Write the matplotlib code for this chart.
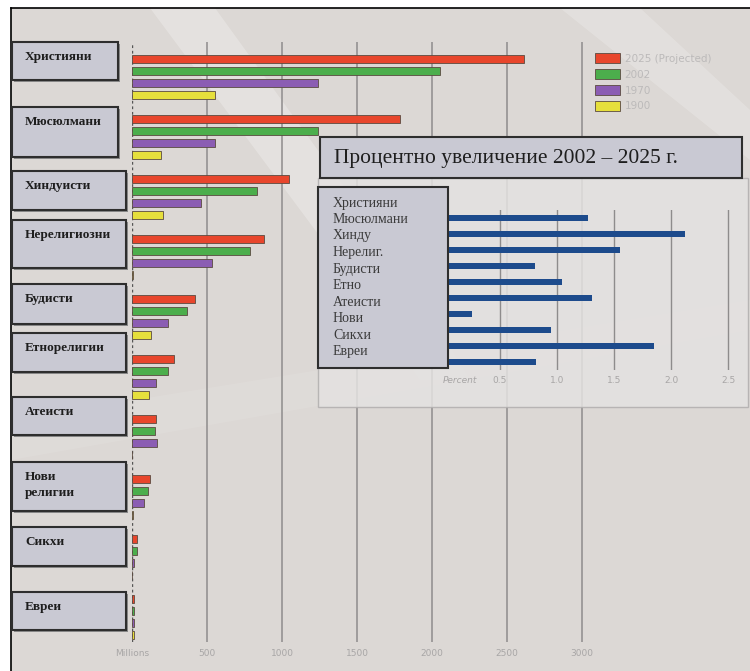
import numpy as np
import matplotlib
matplotlib.use("Agg")
import matplotlib.pyplot as plt
from matplotlib.patches import Rectangle, Polygon

# --- data (millions of adherents) ---
religions = ["Християни", "Мюсюлмани", "Хиндуисти", "Нерелигиозни", "Будисти",
             "Етнорелигии", "Атеисти", "Нови\nрелигии", "Сикхи", "Евреи"]
years = ["2025 (Projected)", "2002", "1970", "1900"]
v2025 = [2615, 1785, 1045, 880, 420, 280, 160, 120, 33, 15]
v2002 = [2055, 1240, 835, 785, 365, 240, 153, 107, 30, 15]
v1970 = [1240, 555, 460, 530, 240, 160, 165, 80, 12, 14]
v1900 = [555, 195, 205, 5, 125, 115, 2, 6, 3, 10]
main_ticks = [0, 500, 1000, 1500, 2000, 2500, 3000]
main_ticklabels = ["Millions", "500", "1000", "1500", "2000", "2500", "3000"]

# --- inset: percent growth 2002-2025 ---
short_names = ["Християни", "Мюсюлмани", "Хинду", "Нерелиг.", "Будисти",
               "Етно", "Атеисти", "Нови", "Сикхи", "Евреи"]
growth = [1.27, 2.12, 1.55, 0.81, 1.04, 1.31, 0.25, 0.95, 1.85, 0.82]
inset_ticks = [0, 0.5, 1.0, 1.5, 2.0, 2.5]
inset_ticklabels = ["Percent", "0.5", "1.0", "1.5", "2.0", "2.5"]
inset_title = "Процентно увеличение 2002 – 2025 г."

colors = ["#e8462c", "#4cae4c", "#8b5db3", "#e6df3c"]
box_fill = "#c9c9d3"
serif = ["Liberation Serif", "DejaVu Serif"]

W, H = 750, 671
fig = plt.figure(figsize=(7.5, 6.71), dpi=100, facecolor="white")


def fx(px):
    return px / W


def fy(py):
    return 1 - py / H


def fig_rect(x0, y0, x1, y1, **kw):
    r = Rectangle((fx(x0), fy(y1)), fx(x1) - fx(x0), fy(y0) - fy(y1),
                  transform=fig.transFigure, **kw)
    fig.patches.append(r)
    return r


# background with a few light streaks
fig_rect(11, 8, 750, 671, facecolor="#dcd8d5", edgecolor="none", zorder=-5)
for pts, a in [([(150, 8), (215, 8), (390, 250), (330, 250)], 0.25),
               ([(330, 250), (390, 250), (470, 380), (420, 380)], 0.12),
               ([(560, 8), (640, 8), (750, 110), (750, 160)], 0.2),
               ([(11, 420), (750, 300), (750, 330), (11, 460)], 0.08)]:
    fig.patches.append(Polygon([(fx(x), fy(y)) for x, y in pts], closed=True,
                               transform=fig.transFigure, facecolor="white",
                               edgecolor="none", alpha=a, zorder=-4))
fig.add_artist(plt.Line2D([fx(11), fx(11)], [fy(8), fy(671)], color="black", lw=1.2,
                          transform=fig.transFigure))
fig.add_artist(plt.Line2D([fx(11), fx(750)], [fy(8), fy(8)], color="black", lw=1.2,
                          transform=fig.transFigure))

# --- main chart ---
ax = fig.add_axes([fx(132), fy(642), fx(748) - fx(132), fy(42) - fy(642)])
ax.set_facecolor("none")
ax.set_xlim(0, 616 / 0.15)
ax.set_ylim(10 - 0.217, -0.217)
idx = np.arange(len(religions))
series = [v2025, v2002, v1970, v1900]
handles = []
for k, (vals, c, lab) in enumerate(zip(series, colors, years)):
    b = ax.barh(idx + k * 0.2, vals, height=0.135, align="edge", color=c,
                edgecolor="#5a4a40", linewidth=0.6, label=lab, zorder=3)
    handles.append(b)
for t in main_ticks[1:]:
    ax.axvline(t, color="#8e8c8c", lw=1.1, zorder=1)
ax.axvline(0, color="#555555", lw=1.0, ls=(0, (2, 2)), zorder=2)
ax.set_xticks(main_ticks)
ax.set_xticklabels(main_ticklabels, fontsize=6.5, color="#a8a6a6")
ax.tick_params(axis="x", length=0, pad=5)
ax.set_yticks([])
for s in ax.spines.values():
    s.set_visible(False)

leg = ax.legend(handles=handles, loc="upper left",
                bbox_to_anchor=(fx(586), fy(44)), bbox_transform=fig.transFigure,
                frameon=False, fontsize=7.5, labelcolor="#bcbaba",
                handlelength=2.4, handleheight=1.0, labelspacing=0.55,
                handletextpad=0.4)

# left label boxes (top, bottom, right edge in px)
box_layout = [(42, 80, 118), (107, 157, 118), (171, 210, 126), (220, 268, 126),
              (284, 324, 126), (333, 372, 126), (397, 435, 126), (462, 511, 126),
              (527, 566, 126), (592, 630, 126)]
for name, (t, b, r) in zip(religions, box_layout):
    fig_rect(14, t + 2, r + 2, b + 2, facecolor="#8a8a8a", edgecolor="none", zorder=1)
    fig_rect(12, t, r, b, facecolor=box_fill, edgecolor="#2e2e2e", lw=1.5, zorder=2)
    fig.text(fx(25), fy(t + 9), name, ha="left", va="top", fontsize=9.5,
             fontweight="bold", family=serif, color="#1e1e1e", linespacing=1.45,
             zorder=3)

# --- inset ---
fig_rect(318, 178, 748, 407, facecolor="#e4e2e1", edgecolor="#b0aeae", lw=1.0,
         alpha=0.85, zorder=1)
fig_rect(320, 137, 742, 178, facecolor=box_fill, edgecolor="#2e2e2e", lw=1.5, zorder=3)
fig.text(fx(334), fy(158), inset_title, ha="left", va="center", fontsize=15.5,
         family=serif, color="#1e1e1e", zorder=4)

ax2 = fig.add_axes([fx(443), fy(370), fx(740) - fx(443), fy(210) - fy(370)], zorder=2)
ax2.set_facecolor("none")
ax2.set_xlim(0, 297 / 114)
ax2.set_ylim(len(growth) - 0.5, -0.5)
ax2.barh(np.arange(len(growth)), growth, height=0.42, color="#1d4b8c", zorder=3)
for t in inset_ticks[1:]:
    ax2.axvline(t, color="#8e8c8c", lw=1.0, zorder=1)
ax2.set_xticks(inset_ticks)
ax2.set_xticklabels(inset_ticklabels, fontsize=6.5, color="#a8a6a6")
ax2.get_xticklabels()[0].set_ha("left")
ax2.get_xticklabels()[0].set_style("italic")
ax2.tick_params(axis="x", length=0, pad=4)
ax2.set_yticks([])
for s in ax2.spines.values():
    s.set_visible(False)

fig_rect(318, 187, 448, 368, facecolor=box_fill, edgecolor="#2e2e2e", lw=1.5, zorder=3)
for i, nm in enumerate(short_names):
    fig.text(fx(333), fy(203 + 16.5 * i), nm, ha="left", va="center", fontsize=10,
             family=serif, color="#3a3a3a", zorder=4)

fig.savefig("out.png", dpi=100, facecolor=fig.get_facecolor())
